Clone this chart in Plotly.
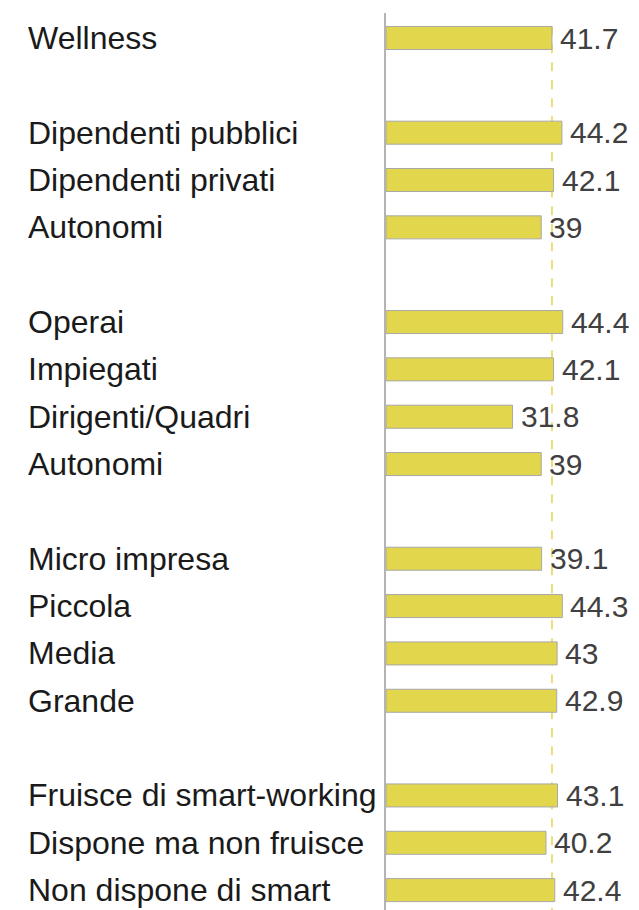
import plotly.graph_objects as go

categories = ["Wellness", "", "Dipendenti pubblici", "Dipendenti privati", "Autonomi", "",
              "Operai", "Impiegati", "Dirigenti/Quadri", "Autonomi", "",
              "Micro impresa", "Piccola", "Media", "Grande", "",
              "Fruisce di smart-working", "Dispone ma non fruisce", "Non dispone di smart"]
values = [41.7, None, 44.2, 42.1, 39, None,
          44.4, 42.1, 31.8, 39, None,
          39.1, 44.3, 43, 42.9, None,
          43.1, 40.2, 42.4]
value_labels = ["41.7", "", "44.2", "42.1", "39", "",
                "44.4", "42.1", "31.8", "39", "",
                "39.1", "44.3", "43", "42.9", "",
                "43.1", "40.2", "42.4"]
reference_value = 41.7

# page body adds an 8px offset, so the figure is 8px smaller
W, H = 631, 902
left_margin = 378
slots = list(range(len(categories)))

fig = go.Figure()
fig.add_trace(go.Bar(
    y=slots, x=values, orientation="h", width=0.486,
    marker=dict(color="#E2D64C", line=dict(color="#A8A8A8", width=1)),
    hoverinfo="skip",
))

annotations = []
for s, cat, v, lab in zip(slots, categories, values, value_labels):
    if cat:
        annotations.append(dict(
            xref="paper", yref="y", x=(18 - left_margin) / (W - left_margin), y=s,
            text=cat, showarrow=False, xanchor="left", yanchor="middle",
            font=dict(family="Liberation Sans, Arial", size=32, color="#1A1A1A"),
        ))
    if v is not None:
        annotations.append(dict(
            xref="x", yref="y", x=v, y=s, text=lab, showarrow=False,
            xanchor="left", yanchor="middle", xshift=6,
            font=dict(family="Liberation Sans, Arial", size=30, color="#404040"),
        ))

fig.add_shape(type="line", xref="x", yref="y", x0=reference_value, x1=reference_value,
              y0=-0.25, y1=18.42, layer="below",
              line=dict(color="#E2D64C", width=1.5, dash="dash"))

fig.update_layout(
    width=W, height=H,
    margin=dict(l=left_margin, r=0, t=5, b=0),
    paper_bgcolor="white", plot_bgcolor="white",
    showlegend=False,
    annotations=annotations,
    xaxis=dict(range=[0, (W - left_margin) / 3.98], visible=False, fixedrange=True),
    yaxis=dict(range=[18.42, -0.528], showticklabels=False, showgrid=False, zeroline=False,
               showline=True, linecolor="#B4B4B4", linewidth=2, ticks=""),
)

fig.write_html("out.html")
